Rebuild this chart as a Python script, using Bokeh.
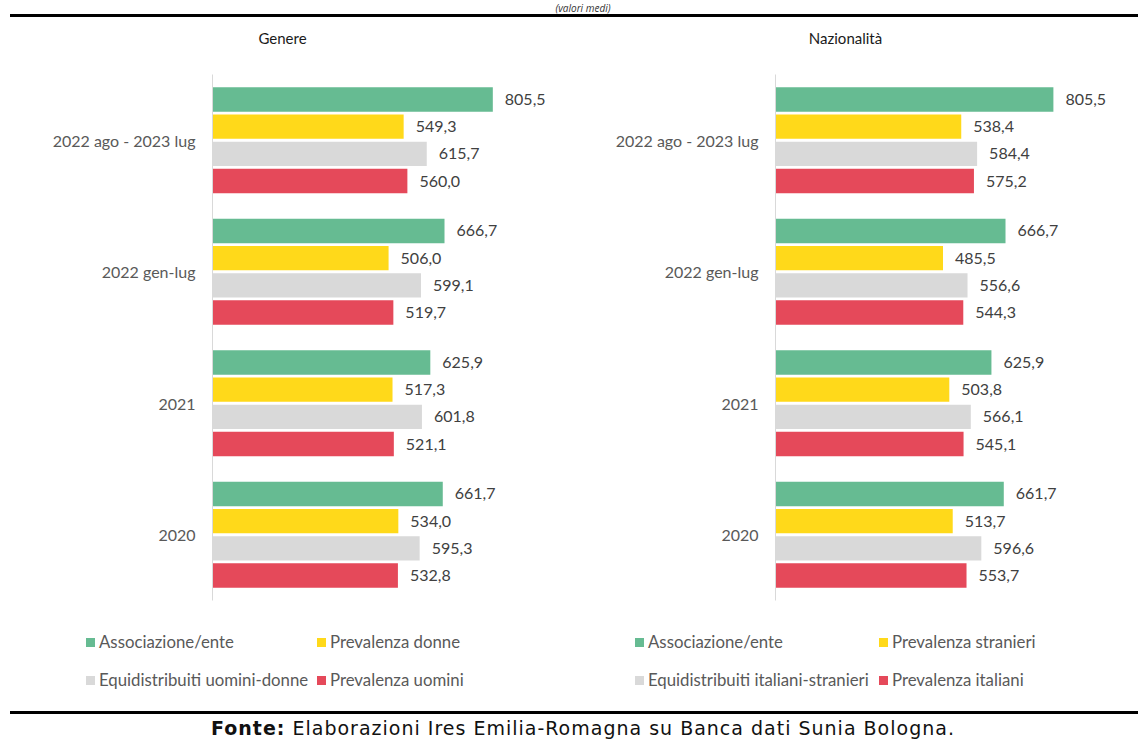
from bokeh.plotting import figure
from bokeh.models import FactorRange, ColumnDataSource, Div
from bokeh.transform import dodge
from bokeh.layouts import column, row
from bokeh.embed import file_html
from bokeh.resources import INLINE
from bokeh.core.properties import value

periods = ["2022 ago - 2023 lug", "2022 gen-lug", "2021", "2020"]

genere_series = ["Associazione/ente", "Prevalenza donne",
                 "Equidistribuiti uomini-donne", "Prevalenza uomini"]
genere_assoc = [805.5, 666.7, 625.9, 661.7]
genere_donne = [549.3, 506.0, 517.3, 534.0]
genere_equi = [615.7, 599.1, 601.8, 595.3]
genere_uomini = [560.0, 519.7, 521.1, 532.8]

naz_series = ["Associazione/ente", "Prevalenza stranieri",
              "Equidistribuiti italiani-stranieri", "Prevalenza italiani"]
naz_assoc = [805.5, 666.7, 625.9, 661.7]
naz_stranieri = [538.4, 485.5, 503.8, 513.7]
naz_equi = [584.4, 556.6, 566.1, 596.6]
naz_italiani = [575.2, 544.3, 545.1, 553.7]

colors = ["#66BB92", "#FFD91A", "#D9D9D9", "#E5495A"]
offsets = [0.31, 0.103, -0.103, -0.31]

LBL_FONT = "Lato"


def fmt(v):
    return f"{v:.1f}".replace(".", ",")


def make_chart(series, values, border_left, frame_w, border_right):
    p = figure(y_range=FactorRange(factors=list(reversed(periods))),
               x_range=(0, 1000),
               frame_width=frame_w, frame_height=526,
               min_border_left=border_left, min_border_right=border_right,
               min_border_top=14, min_border_bottom=20,
               output_backend="svg", toolbar_location=None,
               outline_line_color=None)
    for i, (name, vals) in enumerate(zip(series, values)):
        src = ColumnDataSource(dict(y=periods, x=vals,
                                    label=[fmt(v) for v in vals]))
        p.hbar(y=dodge("y", offsets[i], range=p.y_range), right="x",
               left=0, height=0.185, source=src,
               fill_color=colors[i], line_color=None, name=name)
        p.text(x="x", y=dodge("y", offsets[i], range=p.y_range),
               text="label", source=src, x_offset=12,
               text_baseline="middle", text_align="left",
               text_font=value(LBL_FONT), text_font_size="16px",
               text_color="#404040")
    p.xaxis.visible = False
    p.xgrid.visible = False
    p.ygrid.visible = False
    ax = p.yaxis[0]
    ax.axis_line_color = "#D9D9D9"
    ax.axis_line_width = 1
    ax.major_tick_line_color = None
    ax.minor_tick_line_color = None
    ax.major_label_standoff = 11
    ax.major_label_text_font = LBL_FONT
    ax.major_label_text_font_size = "16px"
    ax.major_label_text_color = "#595959"
    return p


def legend_div(series, width, x1, x2):
    # two columns, two rows: (0, 2) in column 1 and (1, 3) in column 2
    pos = [(x1, 12), (x2, 12), (x1, 50), (x2, 50)]
    html = [f'<div style="position:relative;width:{width}px;height:83px;">']
    for i, name in enumerate(series):
        x, y = pos[i]
        html.append(
            f'<div style="position:absolute;left:{x}px;top:{y}px;height:20px;'
            f'line-height:20px;white-space:nowrap;font-family:Lato;font-size:16.8px;'
            f'color:#595959;">'
            f'<span style="display:inline-block;width:9px;height:9px;'
            f'background:{colors[i]};margin-right:4px;vertical-align:middle;'
            f'position:relative;top:-1px;"></span>{name}</div>')
    html.append('</div>')
    return Div(text="".join(html), width=width, height=83, margin=0)


def title_div(text, width, shift=0):
    return Div(text=(
        f'<div style="width:{width}px;height:45px;box-sizing:border-box;padding-top:15px;'
        f'padding-right:{shift}px;'
        f'text-align:center;font-family:Lato;font-size:15px;line-height:16px;color:#1a1a1a;">'
        f'{text}</div>'), width=width, height=45, margin=0)


LW, RW = 565, 573

left_chart = make_chart(genere_series,
                        [genere_assoc, genere_donne, genere_equi, genere_uomini],
                        212, 348, 5)
right_chart = make_chart(naz_series,
                         [naz_assoc, naz_stranieri, naz_equi, naz_italiani],
                         210, 345, 18)
left_leg = legend_div(genere_series, LW, 86, 317)
right_leg = legend_div(naz_series, RW, 70, 314)

top = Div(text=(
    '<div style="width:1138px;height:12px;box-sizing:border-box;padding-left:28px;padding-top:1px;'
    'text-align:center;font-family:\'Open Sans\';font-style:italic;font-size:10px;'
    'line-height:10px;color:#333;">(valori medi)</div>'
    '<div style="margin-left:10px;width:1128px;height:3px;background:#000;"></div>'),
    width=1138, height=15, margin=0)

bottom = Div(text=(
    '<div style="margin-left:10px;width:1128px;height:3px;margin-top:8px;background:#000;"></div>'
    '<div style="width:1138px;box-sizing:border-box;padding-left:28px;margin-top:3px;text-align:center;'
    'font-family:\'DejaVu Sans\';font-size:19px;letter-spacing:1px;'
    'color:#111;line-height:22px;white-space:nowrap;">'
    '<b>Fonte:</b> Elaborazioni Ires Emilia-Romagna su Banca dati Sunia Bologna.</div>'),
    width=1138, height=39, margin=0)

left_col = column(title_div("Genere", LW), left_chart, left_leg, spacing=0)
right_col = column(title_div("Nazionalità", RW, 12), right_chart, right_leg, spacing=0)

layout = column(top, row(left_col, right_col, spacing=0), bottom, spacing=0)

open("out.html", "w").write(file_html(layout, INLINE))
